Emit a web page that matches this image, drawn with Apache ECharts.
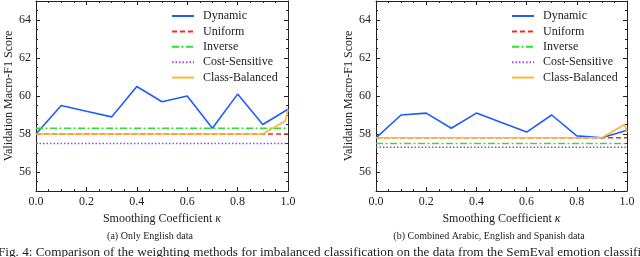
<!DOCTYPE html>
<html><head><meta charset="utf-8">
<script src="https://cdn.jsdelivr.net/npm/echarts@6/dist/echarts.min.js"></script>
<style>html,body{margin:0;padding:0;background:#fff}#c{width:640px;height:257px}</style>
</head><body><div id="c"></div>
<script>
// ---- data ----
const kappa = [0.0, 0.1, 0.2, 0.3, 0.4, 0.5, 0.6, 0.7, 0.8, 0.9, 1.0];
const kappaCB = [0.0, 0.1, 0.2, 0.3, 0.4, 0.5, 0.6, 0.7, 0.8, 0.9, 0.99, 1.0];
const seriesNames = ['Dynamic', 'Uniform', 'Inverse', 'Cost-Sensitive', 'Class-Balanced'];

// (a) Only English data
const enDynamic  = [58.0, 59.5, 59.2, 58.9, 60.5, 59.7, 60.0, 58.3, 60.1, 58.5, 59.3];
const enUniform  = [58.0, 58.0, 58.0, 58.0, 58.0, 58.0, 58.0, 58.0, 58.0, 58.0, 58.0];
const enInverse  = [58.3, 58.3, 58.3, 58.3, 58.3, 58.3, 58.3, 58.3, 58.3, 58.3, 58.3];
const enCost     = [57.5, 57.5, 57.5, 57.5, 57.5, 57.5, 57.5, 57.5, 57.5, 57.5, 57.5];
const enClassBal = [58.0, 58.0, 58.0, 58.0, 58.0, 58.0, 58.0, 58.0, 58.0, 58.0, 58.7, 59.3];

// (b) Combined Arabic, English and Spanish data
const allDynamic  = [57.8, 59.0, 59.1, 58.3, 59.1, 58.6, 58.1, 59.0, 57.9, 57.8, 58.2];
const allUniform  = [57.8, 57.8, 57.8, 57.8, 57.8, 57.8, 57.8, 57.8, 57.8, 57.8, 57.8];
const allInverse  = [57.5, 57.5, 57.5, 57.5, 57.5, 57.5, 57.5, 57.5, 57.5, 57.5, 57.5];
const allCost     = [57.3, 57.3, 57.3, 57.3, 57.3, 57.3, 57.3, 57.3, 57.3, 57.3, 57.3];
const allClassBal = [57.8, 57.8, 57.8, 57.8, 57.8, 57.8, 57.8, 57.8, 57.8, 57.8, 58.5, 58.1];

const xTicks = [0.0, 0.2, 0.4, 0.6, 0.8, 1.0];
const yTicks = [56, 58, 60, 62, 64];

const captionA = '(a) Only English data';
const captionB = '(b) Combined Arabic, English and Spanish data';
const figCaption = 'Fig. 4: Comparison of the weighting methods for imbalanced classification on the data from the SemEval emotion classification';

// ---- styles ----
const FONT = '"Liberation Serif", "Times New Roman", serif';
const colors = ['#1f5cff', '#f02a2a', '#33dd33', '#9b45ff', '#ffb733'];
const lineTypes = ['solid', [5, 3], [7, 2.5, 2, 2.5], [1.5, 2], 'solid'];

const chart = echarts.init(document.getElementById('c'), null, {renderer: 'canvas'});

const grids = [
  {left: 36, right: 352, top: 1, bottom: 66},
  {left: 376, right: 13, top: 1, bottom: 66}
];

const xAxes = [], yAxes = [], series = [], legends = [];
const lineC = '#222';

grids.forEach((g, gi) => {
  xAxes.push({
    gridIndex: gi, type: 'value', min: 0, max: 1, interval: 0.2, position: 'bottom',
    name: 'Smoothing Coefficient {i|κ}', nameLocation: 'middle', nameGap: 20,
    nameTextStyle: {fontFamily: FONT, fontSize: 12, color: '#222',
      rich: {i: {fontFamily: FONT, fontStyle: 'italic', fontSize: 12, color: '#222'}}},
    axisLine: {show: true, lineStyle: {color: lineC, width: 1}},
    axisTick: {show: true, inside: true, length: 4, lineStyle: {color: lineC}},
    minorTick: {show: true, splitNumber: 4, length: 2, lineStyle: {color: lineC}},
    axisLabel: {fontFamily: FONT, fontSize: 12, color: '#222', margin: 5,
      customValues: xTicks, formatter: v => v.toFixed(1)},
    splitLine: {show: false}
  });
  xAxes.push({
    gridIndex: gi, type: 'value', min: 0, max: 1, interval: 0.2, position: 'top',
    axisLine: {show: true, lineStyle: {color: lineC, width: 1}},
    axisTick: {show: true, inside: true, length: 4, lineStyle: {color: lineC}},
    minorTick: {show: true, splitNumber: 4, length: 2, lineStyle: {color: lineC}},
    axisLabel: {show: false}, splitLine: {show: false}
  });
  yAxes.push({
    gridIndex: gi, type: 'value', min: 55, max: 65, interval: 1, position: 'left',
    name: 'Validation Macro-F1 Score', nameLocation: 'middle', nameGap: 21,
    nameTextStyle: {fontFamily: FONT, fontSize: 12, color: '#222'},
    axisLine: {show: true, lineStyle: {color: lineC, width: 1}},
    axisTick: {show: true, inside: true, length: 4, customValues: yTicks, lineStyle: {color: lineC}},
    axisLabel: {fontFamily: FONT, fontSize: 12, color: '#222', margin: 5, customValues: yTicks},
    splitLine: {show: false}
  });
  yAxes.push({
    gridIndex: gi, type: 'value', min: 55, max: 65, interval: 0.5, position: 'left',
    axisLine: {show: false},
    axisTick: {show: true, inside: true, length: 2, lineStyle: {color: lineC}},
    axisLabel: {show: false}, splitLine: {show: false}
  });
  yAxes.push({
    gridIndex: gi, type: 'value', min: 55, max: 65, interval: 1, position: 'right',
    axisLine: {show: true, lineStyle: {color: lineC, width: 1}},
    axisTick: {show: true, inside: true, length: 4, customValues: yTicks, lineStyle: {color: lineC}},
    axisLabel: {show: false}, splitLine: {show: false}
  });
  yAxes.push({
    gridIndex: gi, type: 'value', min: 55, max: 65, interval: 0.5, position: 'right',
    axisLine: {show: false},
    axisTick: {show: true, inside: true, length: 2, lineStyle: {color: lineC}},
    axisLabel: {show: false}, splitLine: {show: false}
  });
});

function addSeries(gi, name, xs, ys, idx) {
  series.push({
    name: name, type: 'line', xAxisIndex: gi * 2, yAxisIndex: gi * 4,
    data: xs.map((x, i) => [x, ys[i]]),
    symbol: 'none', silent: true, animation: false,
    lineStyle: {color: colors[idx], width: 1.6, type: lineTypes[idx]},
    itemStyle: {color: colors[idx]},
    z: 2 + idx
  });
}
const setA = [enDynamic, enUniform, enInverse, enCost, enClassBal];
const setB = [allDynamic, allUniform, allInverse, allCost, allClassBal];
[setA, setB].forEach((set, gi) => {
  set.forEach((ys, idx) => addSeries(gi, seriesNames[idx], idx === 4 ? kappaCB : kappa, ys, idx));
});

[171, 511].forEach((lx, gi) => {
  legends.push({
    left: lx, top: 10, orient: 'vertical', itemWidth: 22, itemHeight: 10, itemGap: 3.4,
    data: seriesNames, selectedMode: false,
    itemStyle: {opacity: 0},
    textStyle: {fontFamily: FONT, fontSize: 12, color: '#222', padding: [0, 0, 0, 4]},
    padding: 0
  });
});

chart.setOption({
  animation: false,
  backgroundColor: '#fff',
  grid: grids,
  xAxis: xAxes,
  yAxis: yAxes,
  legend: legends,
  series: series,
  graphic: [
    {type: 'text', x: 150, y: 231, style: {text: captionA, fontFamily: FONT, fontSize: 10, fill: '#222', align: 'center'}},
    {type: 'text', x: 489, y: 231, style: {text: captionB, fontFamily: FONT, fontSize: 10, fill: '#222', align: 'center'}},
    {type: 'text', x: -2, y: 246, style: {text: figCaption, fontFamily: FONT, fontSize: 13.2, fill: '#222'}}
  ]
});
</script></body></html>
